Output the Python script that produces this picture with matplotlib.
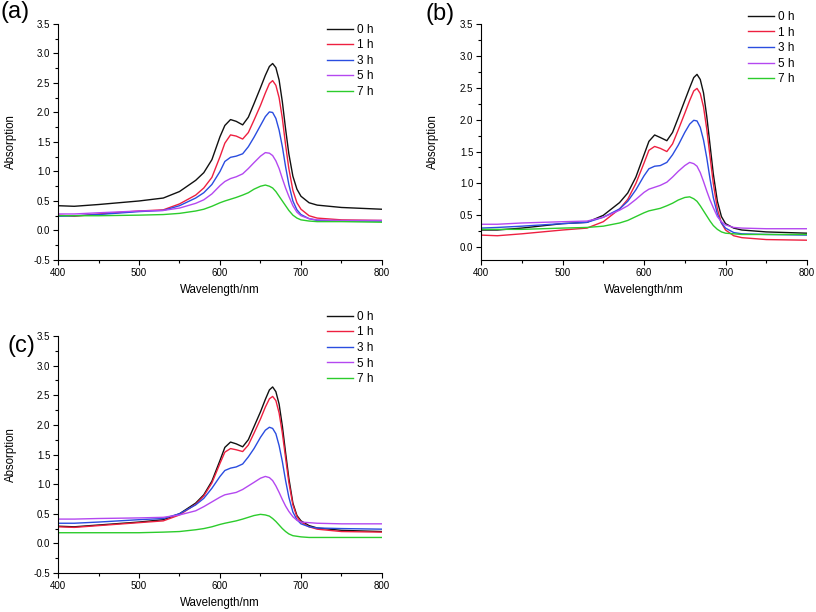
import numpy as np
import matplotlib
matplotlib.use('Agg')
import matplotlib.pyplot as plt
from matplotlib.ticker import MultipleLocator

plt.rcParams['font.family'] = ['Liberation Sans', 'DejaVu Sans']

wavelength = [400, 420, 450, 500, 530, 550, 570, 580, 590, 600, 606, 613, 620, 628, 635, 642,
              650, 656, 661, 665, 669, 673, 677, 681, 685, 690, 695, 700, 710, 720, 750, 800]

labels = ['0 h', '1 h', '3 h', '5 h', '7 h']
colors = ['#111111', '#ee2040', '#2a4de0', '#b448f0', '#2ccc2c']

# panel (a)
a_0h = [0.42, 0.41, 0.44, 0.50, 0.55, 0.66, 0.85, 0.98, 1.20, 1.59, 1.78, 1.88, 1.85, 1.79, 1.92, 2.15,
        2.42, 2.63, 2.78, 2.83, 2.76, 2.55, 2.18, 1.72, 1.30, 0.92, 0.70, 0.58, 0.47, 0.43, 0.39, 0.36]
a_1h = [0.26, 0.24, 0.28, 0.33, 0.35, 0.45, 0.60, 0.72, 0.90, 1.25, 1.48, 1.62, 1.60, 1.55, 1.66, 1.87,
        2.12, 2.33, 2.49, 2.54, 2.46, 2.25, 1.90, 1.45, 1.05, 0.68, 0.47, 0.36, 0.25, 0.21, 0.18, 0.17]
a_3h = [0.24, 0.25, 0.27, 0.32, 0.34, 0.42, 0.55, 0.64, 0.78, 1.00, 1.17, 1.24, 1.26, 1.30, 1.42, 1.58,
        1.78, 1.93, 2.01, 2.00, 1.90, 1.70, 1.42, 1.08, 0.78, 0.50, 0.35, 0.27, 0.20, 0.17, 0.16, 0.16]
a_5h = [0.28, 0.28, 0.30, 0.33, 0.34, 0.38, 0.46, 0.52, 0.62, 0.76, 0.83, 0.88, 0.91, 0.96, 1.05, 1.15,
        1.26, 1.32, 1.31, 1.27, 1.18, 1.05, 0.88, 0.72, 0.58, 0.42, 0.31, 0.25, 0.20, 0.18, 0.17, 0.17]
a_7h = [0.25, 0.25, 0.25, 0.26, 0.27, 0.29, 0.33, 0.36, 0.41, 0.47, 0.50, 0.53, 0.56, 0.60, 0.64, 0.70,
        0.75, 0.77, 0.75, 0.72, 0.66, 0.58, 0.50, 0.42, 0.34, 0.26, 0.21, 0.18, 0.16, 0.15, 0.15, 0.14]

# panel (b)
b_0h = [0.27, 0.27, 0.30, 0.37, 0.39, 0.50, 0.70, 0.85, 1.10, 1.45, 1.66, 1.76, 1.72, 1.67, 1.80, 2.03,
        2.30, 2.50, 2.66, 2.71, 2.63, 2.42, 2.05, 1.60, 1.15, 0.72, 0.48, 0.37, 0.30, 0.27, 0.24, 0.22]
b_1h = [0.19, 0.18, 0.21, 0.27, 0.30, 0.40, 0.60, 0.75, 1.00, 1.32, 1.52, 1.58, 1.55, 1.50, 1.62, 1.84,
        2.10, 2.30, 2.45, 2.49, 2.41, 2.20, 1.85, 1.42, 1.00, 0.60, 0.38, 0.27, 0.18, 0.15, 0.12, 0.11]
b_3h = [0.30, 0.31, 0.33, 0.37, 0.39, 0.47, 0.60, 0.72, 0.90, 1.12, 1.23, 1.27, 1.28, 1.33, 1.45, 1.60,
        1.80, 1.93, 1.99, 1.98, 1.88, 1.68, 1.40, 1.07, 0.78, 0.52, 0.38, 0.30, 0.23, 0.21, 0.20, 0.19]
b_5h = [0.36, 0.36, 0.38, 0.40, 0.41, 0.47, 0.58, 0.65, 0.75, 0.86, 0.91, 0.94, 0.97, 1.02, 1.10, 1.19,
        1.28, 1.33, 1.31, 1.27, 1.17, 1.03, 0.88, 0.74, 0.62, 0.48, 0.40, 0.35, 0.31, 0.30, 0.29, 0.29]
b_7h = [0.28, 0.28, 0.28, 0.30, 0.31, 0.33, 0.38, 0.42, 0.48, 0.54, 0.57, 0.59, 0.61, 0.65, 0.69, 0.74,
        0.78, 0.79, 0.76, 0.72, 0.65, 0.57, 0.49, 0.41, 0.34, 0.28, 0.24, 0.22, 0.21, 0.20, 0.20, 0.20]

# panel (c)
c_0h = [0.29, 0.28, 0.31, 0.36, 0.40, 0.50, 0.68, 0.82, 1.05, 1.40, 1.62, 1.71, 1.68, 1.63, 1.75, 1.97,
        2.22, 2.43, 2.59, 2.64, 2.56, 2.35, 1.98, 1.53, 1.10, 0.68, 0.47, 0.38, 0.30, 0.26, 0.22, 0.20]
c_1h = [0.28, 0.27, 0.30, 0.35, 0.38, 0.48, 0.66, 0.80, 1.02, 1.35, 1.54, 1.60, 1.58, 1.55, 1.66, 1.86,
        2.10, 2.30, 2.44, 2.48, 2.41, 2.20, 1.86, 1.44, 1.03, 0.65, 0.45, 0.36, 0.28, 0.24, 0.20, 0.19]
c_3h = [0.34, 0.34, 0.36, 0.40, 0.42, 0.50, 0.65, 0.76, 0.93, 1.13, 1.23, 1.27, 1.29, 1.34, 1.46, 1.60,
        1.79, 1.91, 1.96, 1.94, 1.85, 1.65, 1.38, 1.06, 0.78, 0.53, 0.40, 0.33, 0.28, 0.26, 0.25, 0.24]
c_5h = [0.41, 0.41, 0.42, 0.43, 0.44, 0.48, 0.55, 0.62, 0.70, 0.78, 0.82, 0.84, 0.86, 0.91, 0.97, 1.03,
        1.10, 1.13, 1.11, 1.06, 0.97, 0.86, 0.74, 0.63, 0.54, 0.45, 0.39, 0.36, 0.35, 0.34, 0.33, 0.33]
c_7h = [0.18, 0.18, 0.18, 0.18, 0.19, 0.20, 0.23, 0.25, 0.28, 0.32, 0.34, 0.36, 0.38, 0.41, 0.44, 0.47,
        0.49, 0.48, 0.46, 0.42, 0.37, 0.31, 0.25, 0.20, 0.16, 0.13, 0.12, 0.11, 0.10, 0.10, 0.10, 0.10]

panels = [
    ('(a)', [a_0h, a_1h, a_3h, a_5h, a_7h], -0.5),
    ('(b)', [b_0h, b_1h, b_3h, b_5h, b_7h], -0.2),
    ('(c)', [c_0h, c_1h, c_3h, c_5h, c_7h], -0.5),
]

fig = plt.figure(figsize=(8.16, 6.12), dpi=100)

ax_rects = [[0.0711, 0.5752, 0.397, 0.3856],
            [0.5895, 0.5752, 0.3995, 0.3856],
            [0.0711, 0.0637, 0.397, 0.3873]]
legend_anchor = [(0.4007, 0.961), (0.9167, 0.982), (0.4007, 0.492)]
tag_pos = [(0.0, 0.980), (0.521, 0.977), (0.009, 0.435)]

for i, (tag, series, ymin) in enumerate(panels):
    ax = fig.add_axes(ax_rects[i])
    for y, lab, col in zip(series, labels, colors):
        ax.plot(wavelength, y, color=col, lw=1.0, label=lab)

    ax.set_xlim(400, 800)
    ax.set_ylim(ymin, 3.5)
    ax.xaxis.set_major_locator(MultipleLocator(100))
    ax.xaxis.set_minor_locator(MultipleLocator(50))
    ax.yaxis.set_major_locator(MultipleLocator(0.5))
    ax.yaxis.set_minor_locator(MultipleLocator(0.25))
    ax.yaxis.set_major_formatter(plt.FuncFormatter(lambda v, p: f'{v:.1f}'))
    ax.tick_params(which='both', direction='out', labelsize=7, width=0.8, pad=2)
    ax.tick_params(which='major', length=3.5)
    ax.tick_params(which='minor', length=2)
    for s in ['top', 'right']:
        ax.spines[s].set_visible(False)
    for s in ['left', 'bottom']:
        ax.spines[s].set_linewidth(0.8)

    ax.set_xlabel('Wavelength/nm', fontsize=8.3)
    ax.set_ylabel('Absorption', fontsize=8.3)
    ax.xaxis.set_label_coords(0.5, -0.101)
    ax.yaxis.set_label_coords(-0.128, 0.5)

    ax.legend(loc='upper left', bbox_to_anchor=legend_anchor[i],
              bbox_transform=fig.transFigure, frameon=False, fontsize=8.5,
              handlelength=2.2, handletextpad=0.33, labelspacing=0.3,
              borderpad=0, borderaxespad=0)

    fig.text(tag_pos[i][0], tag_pos[i][1], tag, fontsize=17, va='center', ha='left')

fig.savefig('out.png', dpi=100)
